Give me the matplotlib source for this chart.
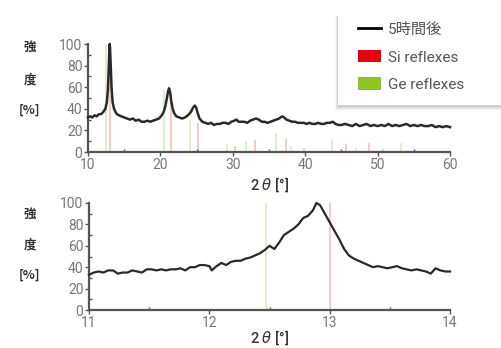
import matplotlib
matplotlib.use("Agg")
import matplotlib.pyplot as plt
from matplotlib.lines import Line2D
from matplotlib.patches import Patch, Rectangle
from matplotlib.ticker import MultipleLocator

# Datos: espectro completo (10-60°)
x_full = [10.0, 10.3, 10.6, 10.9, 11.2, 11.5, 11.8, 12.1, 12.4, 12.6, 12.75, 12.85, 12.95, 13.0,
          13.05, 13.15, 13.25, 13.4, 13.6, 13.8, 14.0, 14.3, 14.6, 15.0, 15.4, 15.8, 16.2, 16.6,
          17.0, 17.4, 17.8, 18.2, 18.6, 19.0, 19.4, 19.8, 20.2, 20.5, 20.7, 20.9, 21.05, 21.2,
          21.35, 21.5, 21.7, 21.9, 22.2, 22.6, 23.0, 23.4, 23.8, 24.2, 24.5, 24.75, 24.95, 25.15,
          25.4, 25.8, 26.2, 26.6, 27.0, 27.4, 27.8, 28.2, 28.6, 29.0, 29.4, 29.8, 30.2, 30.5,
          30.8, 31.2, 31.6, 32.0, 32.4, 32.8, 33.2, 33.6, 34.0, 34.4, 34.8, 35.2, 35.6, 36.0,
          36.4, 36.8, 37.1, 37.4, 37.8, 38.2, 38.6, 39.0, 39.4, 39.8, 40.2, 40.6, 41.0, 41.4,
          41.8, 42.2, 42.6, 43.0, 43.4, 43.8, 44.2, 44.6, 45.0, 45.5, 46.0, 46.5, 47.0, 47.5,
          48.0, 48.5, 49.0, 49.5, 50.0, 50.5, 51.0, 51.5, 52.0, 52.5, 53.0, 53.5, 54.0, 54.5,
          55.0, 55.5, 56.0, 56.5, 57.0, 57.5, 58.0, 58.5, 59.0, 59.5, 60.0]
y_full = [32, 33, 32, 34, 33, 35, 35, 37, 40, 46, 58, 75, 95, 100,
          96, 78, 60, 46, 40, 37, 35, 34, 33, 32, 31, 30, 31, 29,
          30, 28, 28, 29, 28, 29, 30, 31, 34, 38, 43, 50, 56, 59,
          55, 47, 40, 36, 33, 32, 31, 32, 34, 37, 41, 43, 41, 36,
          31, 28, 27, 26, 27, 25, 26, 26, 27, 27, 26, 28, 29, 30,
          28, 28, 28, 27, 29, 30, 31, 30, 28, 28, 27, 28, 29, 30,
          31, 33, 32, 30, 29, 28, 28, 27, 27, 27, 26, 27, 26, 26,
          27, 26, 26, 27, 27, 28, 26, 25, 25, 26, 25, 24, 26, 24,
          25, 26, 24, 25, 24, 25, 24, 26, 24, 25, 24, 25, 26, 24,
          25, 24, 25, 24, 24, 25, 23, 24, 23, 24, 23]

# Reflexiones de referencia (posición, intensidad)
ge_pos = [12.45, 20.5, 24.1, 29.2, 31.8, 36.0, 38.1, 43.7, 47.0, 53.3]
ge_int = [100, 57, 30, 7, 10, 18, 6, 11, 5, 8]
si_pos = [13.0, 21.4, 25.2, 30.3, 33.1, 37.4, 39.9, 45.6, 48.8, 50.7]
si_int = [100, 52, 27, 6, 11, 12, 4, 7, 8, 3]

# Datos: detalle (11-14°)
x_zoom = [11.00, 11.04, 11.08, 11.12, 11.16, 11.20, 11.24, 11.28, 11.32, 11.36, 11.40, 11.44,
          11.48, 11.52, 11.56, 11.60, 11.64, 11.68, 11.72, 11.76, 11.80, 11.84, 11.88, 11.92,
          11.96, 12.00, 12.02, 12.06, 12.10, 12.14, 12.18, 12.22, 12.26, 12.30, 12.34, 12.38,
          12.42, 12.46, 12.50, 12.54, 12.58, 12.62, 12.66, 12.70, 12.74, 12.78, 12.82, 12.86,
          12.89, 12.92, 12.96, 13.00, 13.04, 13.08, 13.12, 13.16, 13.20, 13.24, 13.28, 13.32,
          13.36, 13.40, 13.44, 13.48, 13.52, 13.56, 13.60, 13.64, 13.68, 13.72, 13.76, 13.80,
          13.84, 13.88, 13.92, 13.96, 14.00]
y_zoom = [33, 35, 36, 35, 37, 37, 34, 35, 35, 37, 36, 35,
          38, 38, 37, 38, 37, 38, 38, 39, 37, 40, 40, 42,
          42, 41, 37, 41, 44, 42, 45, 46, 46, 48, 49, 51,
          53, 56, 60, 57, 63, 70, 73, 76, 80, 86, 88, 93,
          100, 98, 90, 82, 74, 66, 57, 51, 48, 46, 44, 42,
          40, 41, 40, 39, 40, 41, 39, 38, 37, 38, 37, 36,
          34, 39, 37, 36, 36]
ge_zoom_pos = [12.47]
si_zoom_pos = [13.0]

RED = "#E60012"
GREEN = "#8FC31F"
AXC = "#555555"
TXT = "#777777"
tick_font = ["Roboto", "DejaVu Sans"]

fig = plt.figure(figsize=(5.02, 3.48), dpi=100)
ax1 = fig.add_axes([88/502, 1-152/348, 362/502, 108/348])
ax2 = fig.add_axes([89/502, 1-310/348, 361/502, 107/348])


def style(ax, xmaj, xmin):
    for s in ["top", "right"]:
        ax.spines[s].set_visible(False)
    for s in ["left", "bottom"]:
        ax.spines[s].set_color(AXC)
        ax.spines[s].set_linewidth(1.6)
    ax.set_ylim(0, 100)
    ax.yaxis.set_major_locator(MultipleLocator(20))
    ax.yaxis.set_minor_locator(MultipleLocator(10))
    ax.xaxis.set_major_locator(MultipleLocator(xmaj))
    ax.xaxis.set_minor_locator(MultipleLocator(xmin))
    ax.tick_params(which="major", direction="out", length=3, width=1, color=AXC,
                   labelcolor=TXT, labelsize=10, pad=1)
    ax.tick_params(which="minor", direction="in", length=2, width=1, color=AXC)
    for lab in ax.get_xticklabels() + ax.get_yticklabels():
        lab.set_family(tick_font)


# Grafica superior
ax1.vlines(ge_pos, 0, ge_int, colors=GREEN, alpha=0.3, lw=1.2, zorder=1)
ax1.vlines(si_pos, 0, si_int, colors=RED, alpha=0.25, lw=1.2, zorder=1)
ax1.plot(x_full, y_full, color="#2a2a2a", lw=1.8, zorder=3, clip_on=False)
ax1.set_xlim(10, 60)
style(ax1, 10, 5)

# Grafica inferior
ax2.vlines(ge_zoom_pos, 0, 100, colors=GREEN, alpha=0.3, lw=1.2, zorder=1)
ax2.vlines(si_zoom_pos, 0, 100, colors=RED, alpha=0.25, lw=1.2, zorder=1)
ax2.plot(x_zoom, y_zoom, color="#2a2a2a", lw=1.6, zorder=3, clip_on=False)
ax2.set_xlim(11, 14)
style(ax2, 1, 0.5)

# Etiquetas del eje y (vertical, apiladas)
cjk = ["Noto Sans CJK JP", "DejaVu Sans"]
for yy in [(47, 80, 110), (214, 245, 275)]:
    for t, py in zip(["強", "度", "[%]"], yy):
        fig.text(30/502, 1-py/348, t, ha="center", va="center", fontsize=9,
                 color="#333333", family=cjk, fontweight="bold")

# Etiquetas del eje x
for py in (185, 338):
    fig.text(270/502, 1-py/348, r"2 $\theta$ [°]", ha="center", va="center",
             fontsize=10.5, color="#333333", family=["Roboto", "DejaVu Sans"],
             fontweight="medium")

# Cuadro de leyenda con sombra suave (hacia abajo)
for i, a in enumerate([0.02, 0.03, 0.04, 0.05, 0.06]):
    off = 5 - i
    fig.patches.append(Rectangle(((338 - off*0.6)/502, 1-(106 + off)/348),
                                 (180 + off)/502, (90 + off)/348,
                                 transform=fig.transFigure, facecolor="black",
                                 alpha=a, edgecolor="none", zorder=5))
fig.patches.append(Rectangle((338/502, 1-105/348), 180/502, 98/348,
                             transform=fig.transFigure, facecolor="white",
                             edgecolor="none", zorder=6))

handles = [Line2D([], [], color="black", lw=2),
           Patch(facecolor=RED, edgecolor="none"),
           Patch(facecolor=GREEN, edgecolor="none")]
labels = ["5時間後", "Si reflexes", "Ge reflexes"]
leg = fig.legend(handles, labels, loc="upper left", bbox_to_anchor=(344/502, 1-9/348),
                 frameon=False, handlelength=1.5, handleheight=0.85,
                 handletextpad=0.45, labelspacing=0.85,
                 prop={"family": ["Roboto", "Noto Sans CJK JP"], "size": 11})
leg.set_zorder(7)
for t in leg.get_texts():
    t.set_color("#555555")

fig.savefig("out.png", dpi=100)
